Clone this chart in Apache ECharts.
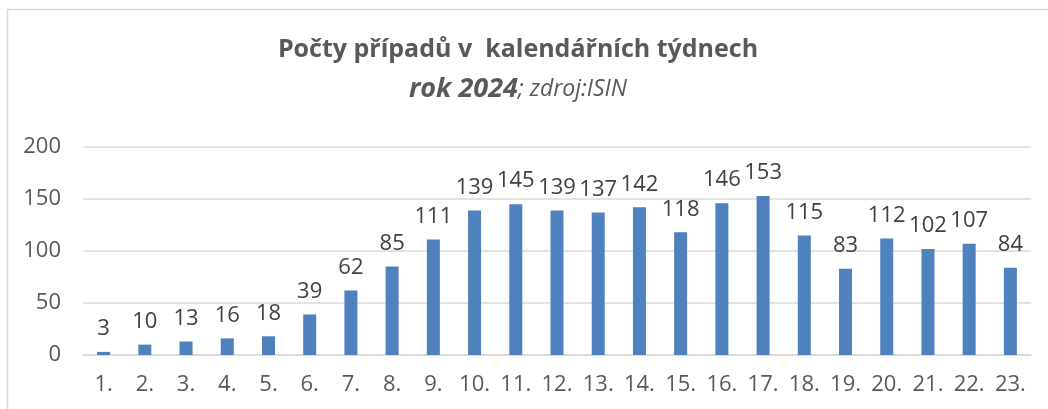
<!DOCTYPE html>
<html>
<head>
<meta charset="utf-8">
<script src="https://cdn.jsdelivr.net/npm/echarts@6/dist/echarts.min.js"></script>
<style>
  html, body { margin: 0; padding: 0; background: #fff; }
  #chart { width: 1048px; height: 409px; }
</style>
</head>
<body>
<div id="chart"></div>
<script>
const weeks = ["1.", "2.", "3.", "4.", "5.", "6.", "7.", "8.", "9.", "10.", "11.", "12.",
  "13.", "14.", "15.", "16.", "17.", "18.", "19.", "20.", "21.", "22.", "23."];
const cases = [3, 10, 13, 16, 18, 39, 62, 85, 111, 139, 145, 139, 137, 142, 118, 146, 153, 115, 83, 112, 102, 107, 84];
const yTicks = [0, 50, 100, 150, 200];

const font = "'Open Sans', 'Noto Sans', sans-serif";
const grey = "#595959";

const chart = echarts.init(document.getElementById("chart"));

const option = {
  animation: false,
  graphic: [
    {
      type: "rect",
      shape: { x: 7.5, y: 9.5, width: 1200, height: 600 },
      style: { fill: "none", stroke: "#d9d9d9", lineWidth: 1.5 },
      silent: true
    }
  ],
  title: [
    {
      text: "Počty případů v  kalendářních týdnech",
      left: 513,
      top: 32,
      textAlign: "center",
      textStyle: { fontFamily: font, fontSize: 25, fontWeight: "bold", color: grey }
    },
    {
      text: "{b|rok 2024}{n|; zdroj:ISIN}",
      left: 513,
      top: 71,
      textAlign: "center",
      textStyle: {
        rich: {
          b: { fontFamily: font, fontSize: 27, fontWeight: "bold", fontStyle: "italic", color: grey },
          n: { fontFamily: font, fontSize: 23, fontWeight: "normal", fontStyle: "italic", color: grey }
        }
      }
    }
  ],
  grid: { left: 83, right: 17, top: 147, bottom: 54 },
  xAxis: {
    type: "category",
    data: weeks,
    axisLine: { lineStyle: { color: "#d9d9d9", width: 1.5 } },
    axisTick: { show: false },
    axisLabel: { color: grey, fontFamily: font, fontSize: 22, margin: 19 }
  },
  yAxis: {
    type: "value",
    min: yTicks[0],
    max: yTicks[yTicks.length - 1],
    interval: yTicks[1] - yTicks[0],
    axisLine: { show: false },
    axisTick: { show: false },
    axisLabel: { color: grey, fontFamily: font, fontSize: 22, margin: 22 },
    splitLine: { lineStyle: { color: "#d9d9d9", width: 1.5 } }
  },
  series: [
    {
      type: "bar",
      data: cases,
      barWidth: 13,
      itemStyle: { color: "#4f81bd" },
      label: {
        show: true,
        position: "top",
        distance: 12,
        color: "#404040",
        fontFamily: font,
        fontSize: 22
      }
    }
  ]
};

chart.setOption(option);
</script>
</body>
</html>
